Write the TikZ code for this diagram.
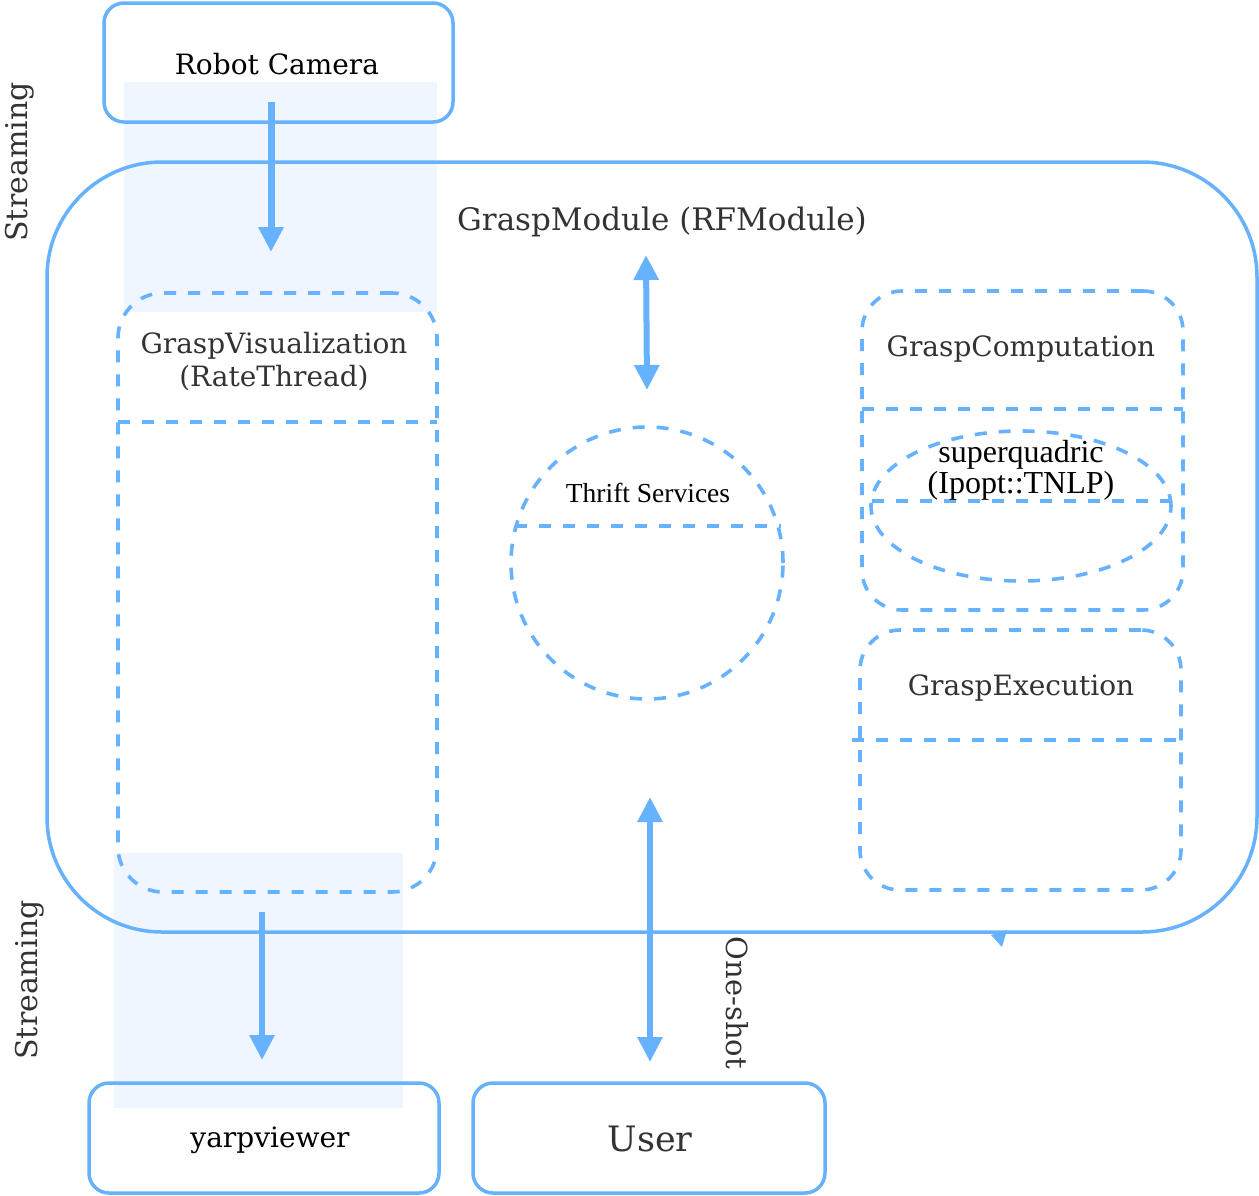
\documentclass[tikz,border=0pt]{standalone}
\usepackage{fontspec}
\setmainfont{DejaVu Serif}
\newfontfamily\tms{Liberation Serif}
\usetikzlibrary{arrows.meta,shapes.geometric}
\definecolor{bl}{RGB}{102,178,255}
\definecolor{lf}{RGB}{239,246,255}
\definecolor{tx}{RGB}{51,51,51}
\tikzset{
  solidbox/.style={draw=bl,line width=3.5pt,rounded corners=20pt,inner sep=0pt},
  dbox/.style={draw=bl,line width=3.6pt,dash pattern=on 12pt off 12pt,inner sep=0pt},
  dline/.style={draw=bl,line width=3.6pt,dash pattern=on 12pt off 12pt},
  lbl/.style={text=tx,font=\fontsize{28}{33}\selectfont,align=center,inner sep=0pt},
  blk/.style={text=black,font=\fontsize{28}{33}\selectfont,align=center,inner sep=0pt},
  arr/.style={draw=bl,line width=6pt,-{Triangle[width=24pt,length=25pt]}},
  darr/.style={draw=bl,line width=6pt,{Triangle[width=24pt,length=25pt]}-{Triangle[width=24pt,length=25pt]}},
}
\begin{document}
\begin{tikzpicture}[x=1pt,y=-1pt]
\useasboundingbox (0,0) rectangle (1259,1195);
% light streaming bands
\fill[lf] (124,82) rectangle (437,312);
\fill[lf] (114,853) rectangle (403,1108);
% main module
\node[draw=bl,line width=3.5pt,rounded corners=115pt,minimum width=1210pt,minimum height=770pt,inner sep=0pt] (main) at (652,547) {};
\node[lbl,font=\fontsize{31}{36}\selectfont] (gm) at (662,222) {GraspModule (RFModule)};
% camera
\node[solidbox,minimum width=349pt,minimum height=119pt] (cam) at (278.5,62.5) {};
\node[blk] (camt) at (277,64) {Robot Camera};
% grasp visualization
\node[dbox,rounded corners=45pt,minimum width=319pt,minimum height=599pt] (gv) at (277.5,592.5) {};
\draw[dline] (118,422) -- (437,422);
\node[lbl] (gvt) at (274,362) {GraspVisualization\\(RateThread)};
% thrift
\node[dbox,circle,minimum size=272pt] (th) at (647,563) {};
\draw[dline] (515,526) -- (781,526);
\node[blk,font=\tms\fontsize{27.5}{30}\selectfont] (tht) at (648,493) {Thrift Services};
% grasp computation
\node[dbox,rounded corners=40pt,minimum width=321pt,minimum height=319pt] (gc) at (1022.5,450.5) {};
\draw[dline] (862,409) -- (1183,409);
\node[lbl] (gct) at (1021,349) {GraspComputation};
\node[dbox,ellipse,minimum width=300pt,minimum height=150pt] (sq) at (1021,506) {};
\draw[dline] (872,501) -- (1170,501);
\node[blk,font=\tms\fontsize{32}{31}\selectfont] (sqt) at (1021,470) {superquadric\\(Ipopt::TNLP)};
% grasp execution
\node[dbox,rounded corners=40pt,minimum width=321pt,minimum height=260pt] (ge) at (1020.5,760) {};
\draw[dline] (852,740) -- (1180,740);
\node[lbl] (get) at (1021,688) {GraspExecution};
% bottom boxes
\node[solidbox,minimum width=350pt,minimum height=110pt] (yv) at (264,1138) {};
\node[blk] (yvt) at (270,1140) {yarpviewer};
\node[solidbox,minimum width=352pt,minimum height=110pt] (us) at (649,1138) {};
\node[lbl,font=\fontsize{35}{40}\selectfont] (ust) at (650,1139) {User};
% side labels
\node[lbl,font=\fontsize{30}{33}\selectfont,rotate=90] (s1) at (20,162) {Streaming};
\node[lbl,font=\fontsize{30}{33}\selectfont,rotate=90] (s2) at (30,980) {Streaming};
\node[lbl,font=\fontsize{29}{33}\selectfont,rotate=-90] (os) at (737,1003) {One-shot};
% connector end points
\coordinate (c1) at (271,102);
\coordinate (c2) at (271,252);
\coordinate (m1) at (646,255);
\coordinate (m2) at (647,390);
\coordinate (v1) at (262,912);
\coordinate (v2) at (262,1060);
\coordinate (u1) at (650,797);
\coordinate (u2) at (650,1062);
\draw[arr,line width=7pt] (c1) -- (c2);
\draw[darr] (m1) -- (m2);
\draw[arr] (v1) -- (v2);
\draw[darr] (u1) -- (u2);
% small arrowhead on module border
\fill[bl] (991,935) -- (1007,930) -- (1002,947) -- cycle;
\end{tikzpicture}
\end{document}
